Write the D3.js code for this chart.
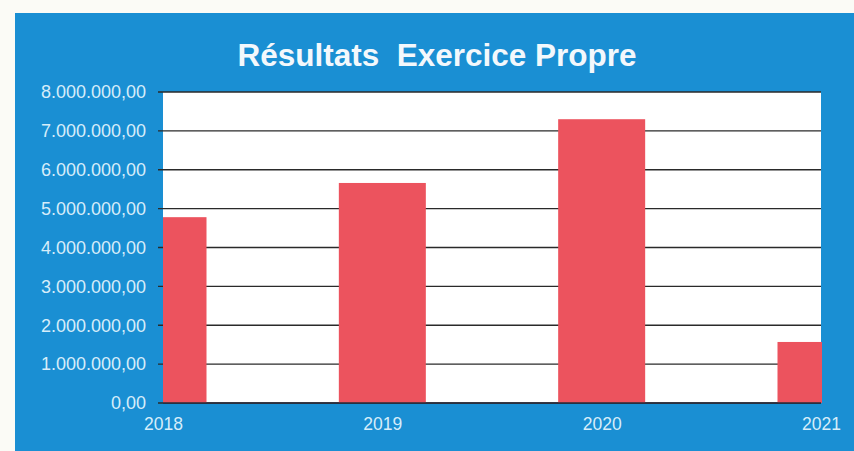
<!DOCTYPE html>
<html>
<head>
<meta charset="utf-8">
<script src="https://cdn.jsdelivr.net/npm/d3@7"></script>
<style>
  html, body { margin: 0; padding: 0; background: #fbfbf6; }
  svg { display: block; }
</style>
</head>
<body>
<svg id="chart" width="854" height="451"></svg>
<script>
const title = "Résultats  Exercice Propre";
const categories = ["2018", "2019", "2020", "2021"];
const values = [4780000, 5660000, 7300000, 1570000];
const yTicks = [0, 1000000, 2000000, 3000000, 4000000, 5000000, 6000000, 7000000, 8000000];

const svg = d3.select("#chart");
const W = 854, H = 451;
const plot = { left: 163, right: 821, top: 92, bottom: 403 };

// blue panel
svg.append("rect").attr("x", 15).attr("y", 13).attr("width", W - 15).attr("height", H - 13)
  .attr("fill", "#1a8fd3");

svg.append("text").attr("x", 437).attr("y", 66).attr("text-anchor", "middle")
  .style("white-space", "pre").attr("xml:space", "preserve")
  .attr("font-family", "Liberation Sans, Arial, sans-serif").attr("font-weight", "bold")
  .attr("font-size", 31.5).attr("fill", "#f3f8fc").text(title);

const x = d3.scalePoint().domain(categories).range([plot.left, plot.right]);
const y = d3.scaleLinear().domain([0, 8000000]).range([plot.bottom, plot.top]);
const loc = d3.formatLocale({ decimal: ",", thousands: ".", grouping: [3], currency: ["", ""] });
const fmt = loc.format(",.2f");

svg.append("rect").attr("x", plot.left).attr("y", plot.top)
  .attr("width", plot.right - plot.left).attr("height", plot.bottom - plot.top).attr("fill", "#ffffff");

// gridlines
svg.append("g").selectAll("line").data(yTicks).join("line")
  .attr("x1", plot.left - 5).attr("x2", plot.right)
  .attr("y1", d => y(d)).attr("y2", d => y(d))
  .attr("stroke", "#2a2a2a").attr("stroke-width", 1.4);

// y axis labels
const yAxis = d3.axisLeft(y).tickValues(yTicks).tickFormat(fmt).tickSize(0).tickPadding(17);
const ya = svg.append("g").attr("transform", `translate(${plot.left},0)`).call(yAxis);
ya.select(".domain").remove();
ya.selectAll("text").attr("font-family", "Liberation Sans, Arial, sans-serif")
  .attr("font-size", 18).attr("fill", "#d6edfa");

// bars, clipped to plot
svg.append("clipPath").attr("id", "clip").append("rect")
  .attr("x", plot.left).attr("y", plot.top - 2)
  .attr("width", plot.right - plot.left + 1).attr("height", plot.bottom - plot.top + 2);
const bw = 87;
svg.append("g").attr("clip-path", "url(#clip)").selectAll("rect").data(values).join("rect")
  .attr("x", (d, i) => x(categories[i]) - bw / 2)
  .attr("y", d => y(d))
  .attr("width", bw)
  .attr("height", d => plot.bottom - y(d))
  .attr("fill", "#ec535e");

// baseline
svg.append("line").attr("x1", plot.left).attr("x2", plot.right)
  .attr("y1", plot.bottom).attr("y2", plot.bottom).attr("stroke", "#2a2a3a").attr("stroke-width", 1.4);

// x axis labels
const xAxis = d3.axisBottom(x).tickSize(0).tickPadding(15);
const xa = svg.append("g").attr("transform", `translate(0,${plot.bottom})`).call(xAxis);
xa.select(".domain").remove();
xa.selectAll("text").attr("font-family", "Liberation Sans, Arial, sans-serif")
  .attr("font-size", 17.5).attr("fill", "#d6edfa");
</script>
</body>
</html>
